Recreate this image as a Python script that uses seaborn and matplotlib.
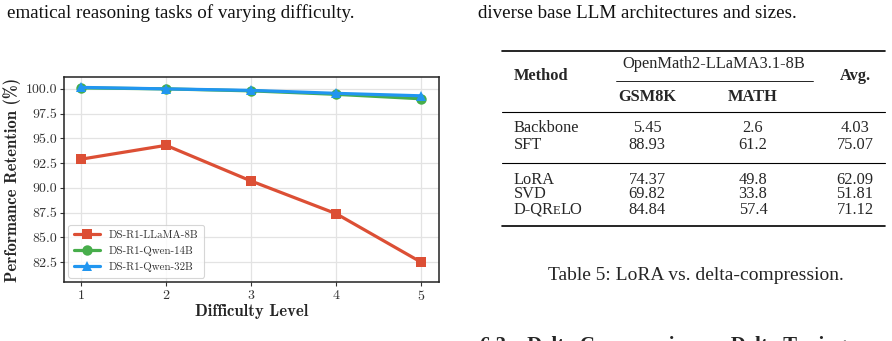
import matplotlib
matplotlib.use("Agg")
import matplotlib.pyplot as plt
import seaborn as sns
import pandas as pd

# ---------------- data ----------------
levels = [1, 2, 3, 4, 5]
llama_8b = [92.9, 94.3, 90.7, 87.4, 82.5]
qwen_14b = [100.1, 100.0, 99.8, 99.45, 99.0]
qwen_32b = [100.15, 100.0, 99.85, 99.55, 99.3]
series_names = ["DS-R1-LLaMA-8B", "DS-R1-Qwen-14B", "DS-R1-Qwen-32B"]
x_ticks = [1, 2, 3, 4, 5]
y_ticks = [82.5, 85.0, 87.5, 90.0, 92.5, 95.0, 97.5, 100.0]

table_methods = ["Backbone", "SFT", "LoRA", "SVD", "D-QRELO"]
table_gsm8k = ["5.45", "88.93", "74.37", "69.82", "84.84"]
table_math = ["2.6", "61.2", "49.8", "33.8", "57.4"]
table_avg = ["4.03", "75.07", "62.09", "51.81", "71.12"]

# ---------------- style ----------------
sns.set_theme(style="whitegrid")
plt.rcParams["font.family"] = ["cmr10", "DejaVu Serif"]
plt.rcParams["axes.formatter.use_mathtext"] = True
plt.rcParams["mathtext.fontset"] = "cm"

W, H = 892, 341
fig = plt.figure(figsize=(W / 100, H / 100), dpi=100)


def fx(x):
    return x / W


def fy(y):
    return 1 - y / H


ax = fig.add_axes([fx(64), fy(282), fx(439) - fx(64), fy(77) - fy(282)])

df = pd.DataFrame({
    "Difficulty": levels * 3,
    "Retention": llama_8b + qwen_14b + qwen_32b,
    "Model": [series_names[0]] * 5 + [series_names[1]] * 5 + [series_names[2]] * 5,
})
palette = {series_names[0]: "#dc4f35", series_names[1]: "#47ad4b", series_names[2]: "#2196f0"}
markers = {series_names[0]: "s", series_names[1]: "o", series_names[2]: "^"}
sns.lineplot(data=df, x="Difficulty", y="Retention", hue="Model", style="Model",
             markers=markers, dashes=False, palette=palette, linewidth=2.3,
             markersize=7.5, markeredgewidth=0, ax=ax)

ax.set_xlim(0.8, 5.21)
ax.set_ylim(80.5, 101.2)
ax.set_xticks(x_ticks)
ax.set_yticks(y_ticks)
ax.set_yticklabels([f"{v:.1f}" for v in y_ticks])
ax.tick_params(axis="both", labelsize=10, colors="#333333", length=3, width=0.8,
               direction="out", bottom=True, left=True, pad=2)
for s in ax.spines.values():
    s.set_color("#222222")
    s.set_linewidth(1.1)
ax.grid(True, color="#e3e3e3", linewidth=0.9)
ax.set_xlabel("Difficulty Level", fontfamily="cmb10", fontsize=12, labelpad=1)
ax.set_ylabel("Performance Retention (%)", fontfamily="cmb10", fontsize=12, labelpad=3)
leg = ax.legend(loc="lower left", fontsize=7.9, frameon=True, borderpad=0.5,
                handlelength=2.4, labelspacing=0.55, borderaxespad=0.4)
leg.get_frame().set_edgecolor("#cccccc")
leg.get_frame().set_linewidth(0.8)
for t in leg.get_texts():
    t.set_color("#333333")

# ---------------- surrounding page text ----------------
serif = "Liberation Serif"
fig.text(fx(7), fy(13), "ematical reasoning tasks of varying difficulty.",
         fontfamily=serif, fontsize=13.7, va="center", ha="left", color="#111111")
fig.text(fx(478), fy(13), "diverse base LLM architectures and sizes.",
         fontfamily=serif, fontsize=13.7, va="center", ha="left", color="#111111")

# ---------------- table ----------------
L, R = fx(502), fx(885)
fig.add_artist(plt.Line2D([L, R], [fy(50.5), fy(50.5)], color="black", lw=1.2))
fig.add_artist(plt.Line2D([fx(616), fx(813)], [fy(81), fy(81)], color="black", lw=0.6))
fig.add_artist(plt.Line2D([L, R], [fy(112.5), fy(112.5)], color="black", lw=0.8))
fig.add_artist(plt.Line2D([L, R], [fy(162.5), fy(162.5)], color="black", lw=0.8))
fig.add_artist(plt.Line2D([L, R], [fy(226), fy(226)], color="black", lw=1.2))

tfs = 11.8
fig.text(fx(514), fy(76), "Method", fontfamily=serif, fontweight="bold", fontsize=tfs,
         va="center", ha="left")
fig.text(fx(714), fy(64), "OpenMath2-LLaMA3.1-8B", fontfamily=serif, fontsize=tfs,
         va="center", ha="center")
fig.text(fx(855), fy(76), "Avg.", fontfamily=serif, fontweight="bold", fontsize=tfs,
         va="center", ha="center")
fig.text(fx(647), fy(97), "GSM8K", fontfamily=serif, fontweight="bold", fontsize=tfs,
         va="center", ha="center")
fig.text(fx(753), fy(97), "MATH", fontfamily=serif, fontweight="bold", fontsize=tfs,
         va="center", ha="center")

row_y = [128, 144, 179, 194, 209]
for m, g, mt, a, y in zip(table_methods, table_gsm8k, table_math, table_avg, row_y):
    base = fy(y + 4.5)
    if m == "D-QRELO":
        t1 = fig.text(fx(514), base, "D-QR", fontfamily=serif, fontsize=tfs,
                      va="baseline", ha="left")
        fig.canvas.draw()
        bb = t1.get_window_extent()
        t2 = fig.text((bb.x1 - 1.0) / W, base, "E", fontfamily=serif, fontsize=tfs * 0.78,
                      va="baseline", ha="left")
        fig.canvas.draw()
        bb2 = t2.get_window_extent()
        fig.text((bb2.x1 - 0.5) / W, base, "LO", fontfamily=serif, fontsize=tfs,
                 va="baseline", ha="left")
    else:
        fig.text(fx(514), base, m, fontfamily=serif, fontsize=tfs, va="baseline", ha="left")
    fig.text(fx(647), base, g, fontfamily=serif, fontsize=tfs, va="baseline", ha="center")
    fig.text(fx(753), base, mt, fontfamily=serif, fontsize=tfs, va="baseline", ha="center")
    fig.text(fx(855), base, a, fontfamily=serif, fontsize=tfs, va="baseline", ha="center")

fig.text(fx(696), fy(275), "Table 5: LoRA vs. delta-compression.", fontfamily=serif,
         fontsize=14, va="center", ha="center")
fig.text(fx(480), fy(336), "6.3    Delta Compression vs. Delta Tuning", fontfamily=serif,
         fontweight="bold", fontsize=15, va="top", ha="left")

fig.savefig("out.png", dpi=100)
